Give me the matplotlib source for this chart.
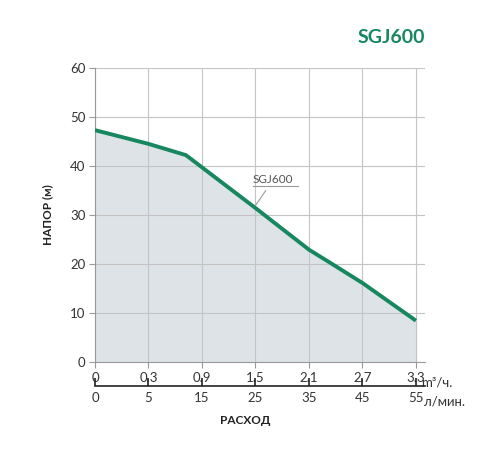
import matplotlib
matplotlib.use("Agg")
import matplotlib.pyplot as plt

pos = [0, 1, 1.7, 3, 4, 4.4, 5, 6]
head = [47.3, 44.5, 42.2, 31.4, 22.9, 20.2, 16.1, 8.4]
m3_labels = ["0", "0.3", "0.9", "1.5", "2.1", "2.7", "3.3"]
lmin_labels = ["0", "5", "15", "25", "35", "45", "55"]
yticks = [0, 10, 20, 30, 40, 50, 60]

plt.rcParams['font.family'] = ['Lato', 'DejaVu Sans']
green = "#16875f"
fig = plt.figure(figsize=(5, 4.5), dpi=100)
ax = fig.add_axes([0.19, 0.196, 0.66, 0.653])
ax.set_xlim(0, 6.17)
ax.set_ylim(0, 60)
ax.fill_between(pos, head, 0, color="#dde3e6", zorder=1)
ax.plot(pos, head, color=green, lw=2.8, zorder=3, solid_capstyle="butt")
ax.set_xticks(range(7))
ax.set_xticklabels(m3_labels, fontsize=9.5, color="#333")
ax.set_yticks(yticks)
ax.set_yticklabels([str(v) for v in yticks], fontsize=9.5, color="#333")
ax.grid(True, color="#c4c4c4", lw=0.8, zorder=0)
for s in ["top", "right"]:
    ax.spines[s].set_visible(False)
ax.spines["left"].set_color("#999")
ax.spines["bottom"].set_color("#999")
ax.tick_params(length=4, color="#999", pad=3)
ax.text(6.1, -3.0, "m³/ч.", fontsize=9.5, color="#333", ha="left", va="top")
ax.set_ylabel("НАПОР (м)", fontsize=8.5, fontweight="bold", color="#222", labelpad=12)
ax.annotate("SGJ600", xy=(2.98, 31.6), xytext=(2.95, 36.0), fontsize=8.5, color="#555",
            ha="left", va="bottom",
            arrowprops=dict(arrowstyle="-", color="#999", lw=0.8))
ax.plot([2.95, 3.8], [35.8, 35.8], color="#999", lw=0.8, zorder=4)

ax2 = fig.add_axes([0.19, 0.142, 0.66, 0.001])
ax2.set_xlim(0, 6.17)
ax2.set_yticks([])
for s in ["top", "right", "left"]:
    ax2.spines[s].set_visible(False)
ax2.spines["bottom"].set_color("#222")
ax2.spines["bottom"].set_linewidth(1.2)
ax2.set_xticks(range(7))
ax2.set_xticklabels(lmin_labels, fontsize=9.5, color="#333")
ax2.tick_params(axis="x", direction="in", length=6, color="#222", width=1.2, pad=4)
fig.text(0.848, 0.107, "л/мин.", fontsize=9.5, color="#333", ha="left", va="center")
fig.text(0.49, 0.058, "РАСХОД", fontsize=8.5, fontweight="bold", color="#222", ha="center")
fig.text(0.85, 0.905, "SGJ600", fontsize=14, fontweight="bold", color=green, ha="right")
fig.savefig("out.png", dpi=100, facecolor="white")
